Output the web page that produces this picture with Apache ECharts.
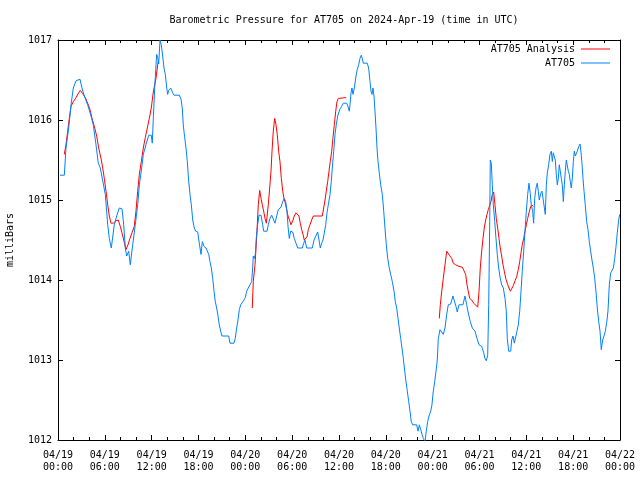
<!DOCTYPE html>
<html>
<head>
<meta charset="utf-8">
<script src="https://cdn.jsdelivr.net/npm/echarts@6/dist/echarts.min.js"></script>
<style>html,body{margin:0;padding:0;background:#fff}#c{width:640px;height:480px}</style>
</head>
<body>
<div id="c"></div>
<script>
// Hours since 2024-04-19 00:00 UTC
const obsHours = [
0.26,0.81,1.02,1.37,1.67,1.96,2.31,2.82,3.07,3.37,
3.80,4.23,4.52,4.87,5.16,5.42,5.73,6.06,6.37,6.57,
6.83,7.21,7.52,7.85,8.20,8.42,8.62,8.80,9.06,9.26,
9.57,9.90,10.21,10.42,10.72,10.93,11.27,11.62,11.95,12.08,
12.21,12.39,12.52,12.64,12.77,12.90,13.07,13.23,13.41,13.58,
13.75,13.93,14.05,14.18,14.44,14.69,14.86,15.54,15.76,15.92,
16.05,16.23,16.40,16.56,16.74,16.91,17.08,17.26,17.46,17.64,
17.90,18.10,18.32,18.49,18.70,18.96,19.13,19.31,19.47,19.64,
19.82,19.99,20.15,20.33,20.50,20.66,20.84,21.01,21.87,22.03,
22.55,22.71,22.89,23.06,23.23,23.41,23.66,23.83,24.00,24.17,
24.38,24.60,24.81,24.94,25.02,25.15,25.28,25.40,25.58,25.75,
26.01,26.22,26.35,26.78,26.94,27.16,27.38,27.63,27.80,28.02,
28.22,28.57,28.79,28.99,29.17,29.34,29.47,29.63,29.81,30.07,
30.27,30.49,30.71,31.30,31.48,31.64,31.86,32.58,32.80,33.01,
33.27,33.44,33.60,33.78,33.95,34.12,34.30,34.46,34.63,34.85,
35.01,35.14,35.32,35.49,35.65,35.83,36.09,36.34,36.55,36.99,
37.15,37.32,37.41,37.54,37.66,37.79,37.96,38.18,38.34,38.52,
38.69,38.86,38.98,39.11,39.62,39.80,39.97,40.10,40.23,40.35,
40.48,40.61,40.74,40.87,41.00,41.16,41.34,41.55,41.73,41.89,
42.06,42.24,42.44,42.62,42.83,43.05,43.21,43.39,43.56,43.72,
43.90,44.07,44.24,44.42,44.58,44.75,44.93,45.10,45.26,45.44,
45.95,46.12,46.29,46.47,46.63,46.80,47.02,47.18,47.36,47.53,
47.75,47.91,48.08,48.26,48.43,48.59,48.72,48.94,49.16,49.36,
49.58,49.80,50.00,50.31,50.60,50.77,50.99,51.15,51.37,51.88,
52.14,52.36,52.53,52.82,53.08,53.42,53.68,53.94,54.28,54.54,
54.70,54.87,55.05,55.18,55.31,55.38,55.51,55.64,55.77,55.95,
56.11,56.28,56.46,56.66,56.84,57.05,57.27,57.43,57.56,57.74,
58.00,58.12,58.29,58.46,58.64,58.80,58.97,59.15,59.32,59.48,
59.66,59.83,60.00,60.17,60.34,60.50,60.63,60.81,60.94,61.07,
61.24,61.40,61.53,61.66,61.84,62.01,62.18,62.31,62.43,62.56,
62.69,62.86,63.03,63.20,63.33,63.45,63.58,63.71,63.84,63.97,
64.10,64.22,64.35,64.48,64.61,64.74,64.87,64.99,65.12,65.25,
65.38,65.51,65.63,65.76,65.89,66.02,66.15,66.28,66.40,66.53,
66.71,66.88,67.01,67.14,67.26,67.39,67.55,67.73,67.90,68.07,
68.24,68.41,68.58,68.76,68.92,69.09,69.27,69.44,69.60,69.78,
69.95,70.12,70.30,70.46,70.63,70.81,70.98,71.15,71.32,71.49,
71.65,71.83,71.96
];
const obsPressure = [
1015.31,1015.31,1015.65,1015.90,1016.19,1016.40,1016.49,1016.51,1016.40,1016.30,
1016.19,1016.05,1015.94,1015.69,1015.46,1015.40,1015.24,1015.07,1014.69,1014.52,
1014.40,1014.69,1014.80,1014.90,1014.89,1014.69,1014.40,1014.30,1014.36,1014.19,
1014.44,1014.69,1014.94,1015.19,1015.40,1015.57,1015.69,1015.81,1015.81,1015.71,
1016.02,1016.40,1016.63,1016.82,1016.78,1016.70,1017.00,1016.94,1016.80,1016.65,
1016.57,1016.40,1016.32,1016.37,1016.40,1016.34,1016.31,1016.31,1016.26,1016.15,
1015.94,1015.78,1015.65,1015.49,1015.24,1015.07,1014.94,1014.75,1014.65,1014.61,
1014.60,1014.46,1014.32,1014.48,1014.42,1014.40,1014.39,1014.32,1014.23,1014.15,
1014.02,1013.86,1013.73,1013.65,1013.55,1013.44,1013.36,1013.30,1013.30,1013.21,
1013.21,1013.27,1013.40,1013.50,1013.63,1013.69,1013.71,1013.75,1013.78,1013.86,
1013.90,1013.92,1013.98,1014.15,1014.30,1014.27,1014.32,1014.52,1014.69,1014.81,
1014.81,1014.69,1014.61,1014.61,1014.69,1014.77,1014.81,1014.80,1014.71,1014.80,
1014.88,1014.91,1014.98,1015.02,1014.98,1014.86,1014.67,1014.52,1014.61,1014.60,
1014.52,1014.46,1014.40,1014.40,1014.46,1014.50,1014.40,1014.40,1014.50,1014.50,
1014.60,1014.50,1014.40,1014.46,1014.50,1014.50,1014.69,1014.84,1014.94,1015.07,
1015.23,1015.40,1015.61,1015.82,1015.94,1016.05,1016.13,1016.17,1016.21,1016.21,
1016.17,1016.11,1016.19,1016.34,1016.40,1016.32,1016.40,1016.55,1016.63,1016.69,
1016.77,1016.81,1016.77,1016.71,1016.71,1016.65,1016.48,1016.36,1016.32,1016.40,
1016.30,1016.11,1015.90,1015.65,1015.48,1015.34,1015.19,1015.07,1014.86,1014.65,
1014.44,1014.27,1014.15,1014.07,1013.98,1013.86,1013.73,1013.65,1013.52,1013.40,
1013.27,1013.15,1013.02,1012.86,1012.73,1012.61,1012.48,1012.36,1012.23,1012.19,
1012.19,1012.11,1012.19,1012.13,1012.07,1012.02,1011.98,1012.11,1012.23,1012.30,
1012.36,1012.44,1012.61,1012.73,1012.86,1013.00,1013.27,1013.38,1013.40,1013.32,
1013.40,1013.57,1013.69,1013.70,1013.80,1013.74,1013.67,1013.60,1013.69,1013.69,
1013.80,1013.69,1013.60,1013.48,1013.40,1013.36,1013.27,1013.19,1013.17,1013.09,
1013.02,1012.99,1013.06,1013.69,1014.73,1015.50,1015.46,1015.19,1014.94,1014.73,
1014.52,1014.32,1014.15,1014.02,1013.94,1013.90,1013.77,1013.61,1013.27,1013.11,
1013.11,1013.25,1013.30,1013.21,1013.21,1013.36,1013.44,1013.61,1013.86,1014.11,
1014.36,1014.61,1014.86,1015.07,1015.21,1015.08,1014.94,1014.86,1014.71,1015.02,
1015.15,1015.21,1015.11,1015.00,1015.08,1015.11,1015.11,1014.90,1014.82,1015.19,
1015.34,1015.44,1015.57,1015.61,1015.48,1015.59,1015.61,1015.50,1015.32,1015.19,
1015.27,1015.44,1015.36,1015.27,1015.19,1014.98,1015.19,1015.36,1015.50,1015.48,
1015.36,1015.32,1015.23,1015.15,1015.27,1015.48,1015.61,1015.55,1015.53,1015.61,
1015.67,1015.70,1015.59,1015.44,1015.27,1015.11,1014.94,1014.73,1014.63,1014.48,
1014.36,1014.25,1014.15,1014.02,1013.86,1013.65,1013.48,1013.36,1013.13,1013.25,
1013.30,1013.36,1013.47,1013.61,1013.94,1014.09,1014.11,1014.15,1014.27,1014.42,
1014.59,1014.75,1014.82
];

const analysisHours1 = [0.81,1.02,1.24,1.45,1.67,1.96,2.31,2.65,2.86,3.16,3.50,3.80,4.10,4.36,4.65,4.96,5.21,5.51,5.73,5.93,6.15,6.37,6.57,6.79,7.08,7.43,7.72,7.98,8.20,8.42,8.71,8.97,9.22,9.48,9.77,9.99,10.21,10.42,10.67,10.93,11.18,11.44,11.70,11.95,12.21,12.55,12.77,12.85];
const analysisPressure1 = [1015.57,1015.69,1015.86,1016.02,1016.17,1016.23,1016.28,1016.34,1016.37,1016.33,1016.28,1016.21,1016.13,1016.02,1015.92,1015.80,1015.65,1015.52,1015.40,1015.27,1015.11,1014.94,1014.80,1014.71,1014.71,1014.74,1014.75,1014.67,1014.59,1014.50,1014.38,1014.44,1014.52,1014.59,1014.67,1014.86,1015.11,1015.32,1015.48,1015.65,1015.78,1015.90,1016.02,1016.15,1016.35,1016.52,1016.69,1016.74];
const analysisHours2 = [24.89,25.02,25.24,25.37,25.49,25.66,25.84,26.01,26.17,26.35,26.52,26.69,26.81,26.94,27.12,27.29,27.42,27.58,27.76,27.93,28.09,28.27,28.44,28.61,28.79,28.95,29.12,29.30,29.47,29.69,29.85,30.07,30.27,30.49,30.71,30.87,31.04,31.22,31.39,31.55,31.73,31.90,32.07,32.28,32.50,32.71,33.86,34.04,34.21,34.37,34.55,34.72,34.88,35.06,35.23,35.40,35.58,35.74,35.91,36.90];
const analysisPressure2 = [1013.65,1013.98,1014.19,1014.40,1014.61,1014.94,1015.12,1015.02,1014.94,1014.86,1014.77,1014.71,1014.69,1014.94,1015.15,1015.36,1015.61,1015.86,1016.02,1015.94,1015.82,1015.61,1015.48,1015.27,1015.11,1015.02,1014.96,1014.88,1014.80,1014.74,1014.69,1014.74,1014.80,1014.84,1014.86,1014.80,1014.71,1014.63,1014.57,1014.50,1014.48,1014.54,1014.63,1014.69,1014.75,1014.80,1014.80,1014.90,1015.00,1015.11,1015.23,1015.36,1015.48,1015.61,1015.78,1015.94,1016.11,1016.23,1016.27,1016.28];
const analysisHours3 = [48.85,48.98,49.16,49.36,49.58,49.80,50.00,50.22,50.44,50.64,50.95,51.37,51.80,52.05,52.23,52.40,52.56,52.74,53.00,53.26,53.51,53.77,53.94,54.10,54.28,54.45,54.61,54.79,54.96,55.13,55.31,55.47,55.64,55.82,55.98,56.15,56.33,56.50,56.66,56.84,57.01,57.18,57.36,57.62,57.78,57.95,58.12,58.33,58.55,58.76,58.97,59.15,59.32,59.48,59.66,59.83,60.00,60.17,60.34,60.50,60.68,60.88];
const analysisPressure3 = [1013.52,1013.69,1013.86,1014.02,1014.19,1014.36,1014.34,1014.30,1014.27,1014.21,1014.19,1014.17,1014.16,1014.15,1014.07,1013.94,1013.86,1013.77,1013.75,1013.71,1013.69,1013.66,1013.86,1014.15,1014.36,1014.52,1014.65,1014.75,1014.82,1014.88,1014.90,1014.98,1015.07,1015.10,1014.94,1014.77,1014.65,1014.52,1014.40,1014.30,1014.19,1014.11,1014.02,1013.94,1013.90,1013.86,1013.89,1013.93,1013.99,1014.04,1014.13,1014.23,1014.34,1014.44,1014.52,1014.61,1014.69,1014.77,1014.84,1014.90,1014.94,1014.92];

const seriesNames = ['AT705 Analysis', 'AT705'];
const startDay = 19; // April 19, 2024

function zip(h, v) { return h.map((x, i) => [x, v[i]]); }
const analysisData = []
  .concat(zip(analysisHours1, analysisPressure1)).concat([[18, '-']])
  .concat(zip(analysisHours2, analysisPressure2)).concat([[42, '-']])
  .concat(zip(analysisHours3, analysisPressure3));
const obsData = zip(obsHours, obsPressure);

const FONT = 'DejaVu Sans Mono';
function pad(n) { return (n < 10 ? '0' : '') + n; }
function fmtX(h) {
  const d = startDay + Math.floor(h / 24 + 1e-9);
  const hr = Math.round(h - (d - startDay) * 24);
  return '04/' + pad(d) + '\n' + pad(hr) + ':00';
}

const chart = echarts.init(document.getElementById('c'), null, { renderer: 'canvas' });
const xCommon = { type: 'value', min: 0, max: 72, interval: 6, splitLine: { show: false },
  axisLine: { show: true, onZero: false, lineStyle: { color: '#000', width: 1 } },
  axisTick: { show: true, inside: true, length: 5, lineStyle: { color: '#000' } },
  minorTick: { show: true, splitNumber: 3, length: 3, lineStyle: { color: '#000' } },
  minorSplitLine: { show: false } };
const yCommon = { type: 'value', min: 1012, max: 1017, interval: 1, splitLine: { show: false },
  axisLine: { show: true, onZero: false, lineStyle: { color: '#000', width: 1 } },
  axisTick: { show: true, inside: true, length: 5, lineStyle: { color: '#000' } } };

chart.setOption({
  animation: false,
  backgroundColor: '#fff',
  textStyle: { fontFamily: FONT },
  title: { text: 'Barometric Pressure for AT705 on 2024-Apr-19 (time in UTC)', left: 339, textAlign: 'center', top: 10,
    textStyle: { fontFamily: FONT, fontSize: 10, fontWeight: 'normal', color: '#000' } },
  legend: { orient: 'vertical', right: 25, top: 38, align: 'right', itemWidth: 29, itemHeight: 1, itemGap: 2,
    data: seriesNames.map(n => ({ name: n, icon: 'rect' })),
    textStyle: { fontFamily: FONT, fontSize: 10, color: '#000', lineHeight: 12, padding: [0, 1, 0, 0] } },
  grid: { left: 58, right: 20, top: 40, bottom: 40, containLabel: false, outerBoundsMode: 'none' },
  xAxis: [
    Object.assign({}, xCommon, { position: 'bottom',
      axisLabel: { show: true, formatter: fmtX, fontFamily: FONT, fontSize: 10, color: '#000', lineHeight: 12, margin: 9 } }),
    Object.assign({}, xCommon, { position: 'top', axisLabel: { show: false } })
  ],
  yAxis: [
    Object.assign({}, yCommon, { position: 'left', name: 'milliBars', nameLocation: 'middle', nameGap: 43,
      nameTextStyle: { fontFamily: FONT, fontSize: 10, color: '#000' },
      axisLabel: { fontFamily: FONT, fontSize: 10, color: '#000', margin: 6, formatter: v => String(v) } }),
    Object.assign({}, yCommon, { position: 'right', axisLabel: { show: false } })
  ],
  series: [
    { name: seriesNames[0], type: 'line', data: analysisData, xAxisIndex: 0, yAxisIndex: 0,
      symbol: 'none', showSymbol: false, connectNulls: false, color: '#ff0000',
      lineStyle: { color: '#ff0000', width: 1 } },
    { name: seriesNames[1], type: 'line', data: obsData, xAxisIndex: 0, yAxisIndex: 0,
      symbol: 'none', showSymbol: false, color: '#0080ff',
      lineStyle: { color: '#0080ff', width: 1 } }
  ]
});
</script>
</body>
</html>
